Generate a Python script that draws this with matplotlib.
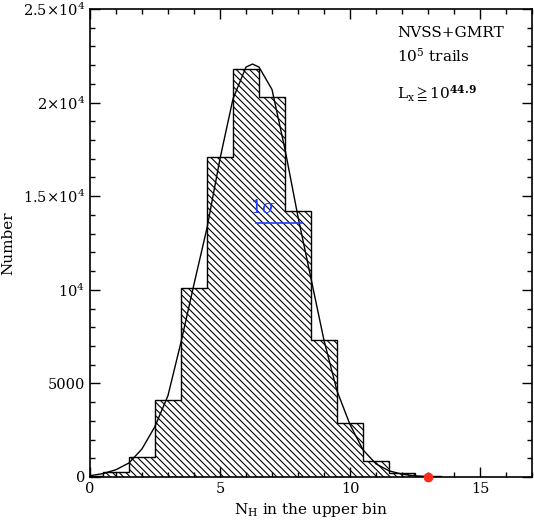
import numpy as np
import matplotlib
matplotlib.use("Agg")
import matplotlib.pyplot as plt
from matplotlib.ticker import MultipleLocator, FixedLocator, FixedFormatter

plt.rcParams['font.family'] = ['DejaVu Serif', 'DejaVu Sans']
plt.rcParams['mathtext.fontset'] = 'dejavuserif'
plt.rcParams['hatch.linewidth'] = 0.8

# histogram of N_H (bins centred on integers, width 1)
bin_edges = [-0.5, 0.5, 1.5, 2.5, 3.5, 4.5, 5.5, 6.5, 7.5, 8.5, 9.5, 10.5, 11.5, 12.5, 13.5]
counts = [70, 280, 1080, 4100, 10100, 17100, 21800, 20300, 14200, 7300, 2900, 850, 200, 30]

# fitted curve
curve_x = [0.0, 0.5, 1.0, 1.5, 2.0, 2.5, 3.0, 3.5, 4.0, 4.5, 5.0, 5.5, 6.0, 6.25, 6.5,
           7.0, 7.5, 8.0, 8.5, 9.0, 9.5, 10.0, 10.5, 11.0, 11.5, 12.0, 12.5, 13.0, 13.5]
curve_y = [70, 180, 390, 750, 1500, 2700, 4350, 7200, 10300, 13300, 17000, 20200, 21900, 22060, 21900,
           20700, 17500, 13900, 10600, 7300, 4600, 2800, 1450, 700, 330, 150, 60, 20, 5]

# observed value
obs_x = [13]
obs_y = [0]

# 1 sigma marker
sigma_x = [6.38, 8.15]
sigma_y = [13570, 13570]

yticks = [0, 5000, 10000, 15000, 20000, 25000]
ytick_labels = ['0', '5000', r'$10^4$', r'$1.5{\times}10^4$', r'$2{\times}10^4$', r'$2.5{\times}10^4$']

fig = plt.figure(figsize=(5.34, 5.24), dpi=100)
ax = fig.add_axes([0.1685, 0.0897, 0.8278, 0.8931])

ax.stairs(counts, bin_edges, fill=True, facecolor='none', edgecolor='black',
          hatch='\\\\\\\\\\', linewidth=0)
ax.stairs(counts, bin_edges, color='black', linewidth=1.0)
ax.plot(curve_x, curve_y, color='black', linewidth=1.0)
ax.plot(sigma_x, sigma_y, color='#1f3cff', linewidth=1.2)
ax.text(6.65, 13900, r'$\mathrm{1}\sigma$', color='#1f3cff', fontsize=13, ha='center', va='bottom')
ax.plot(obs_x, obs_y, 'o', color='#ff2a1a', markersize=6, clip_on=False, zorder=5)

ax.set_xlim(0, 17)
ax.set_ylim(0, 25000)
ax.xaxis.set_major_locator(MultipleLocator(5))
ax.xaxis.set_minor_locator(MultipleLocator(1))
ax.yaxis.set_major_locator(FixedLocator(yticks))
ax.yaxis.set_major_formatter(FixedFormatter(ytick_labels))
ax.yaxis.set_minor_locator(MultipleLocator(1000))
ax.tick_params(which='both', direction='in', top=True, right=True, width=1.0, labelsize=10.5)
ax.tick_params(which='major', length=7)
ax.tick_params(which='minor', length=3.5)
for s in ax.spines.values():
    s.set_linewidth(1.2)

ax.set_xlabel(r'N$_\mathrm{H}$ in the upper bin', fontsize=11)
ax.set_ylabel('Number', fontsize=11)
ax.yaxis.set_label_coords(-0.17, 0.5)

ax.text(11.8, 23700, 'NVSS+GMRT', fontsize=11, va='center')
ax.text(11.8, 22500, r'10$^5$ trails', fontsize=11, va='center')
ax.text(11.8, 20500, r'L$_\mathrm{x}\geqq$10$^{\mathbf{44.9}}$', fontsize=11, va='center')

fig.savefig('out.png', dpi=100)
